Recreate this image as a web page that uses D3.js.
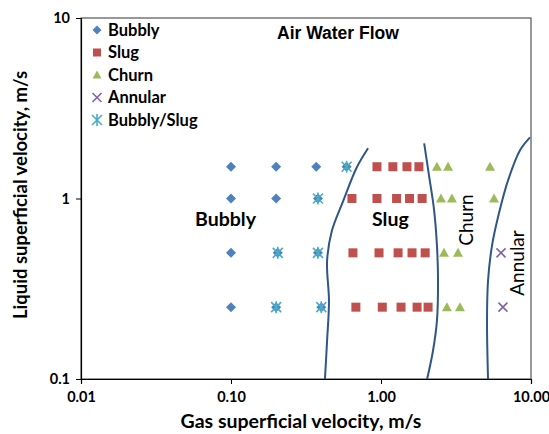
<html>
<head>
<script src="https://d3js.org/d3.v7.min.js"></script>
<style>
  body { margin: 0; background: #fff; }
  text { font-family: Lato, "Open Sans", sans-serif; font-weight: bold; fill: #000; }
  .title { font-family: "Liberation Sans", Arial, sans-serif; }
</style>
</head>
<body>
<div id="chart"></div>
<script>
// flow pattern observations (gas velocity, liquid velocity)
const bubbly = [
  [0.1, 1.5], [0.2, 1.5], [0.37, 1.5], [0.59, 1.5],
  [0.1, 1.0], [0.2, 1.0], [0.38, 1.0],
  [0.1, 0.5], [0.205, 0.5], [0.38, 0.5],
  [0.1, 0.25], [0.2, 0.25], [0.4, 0.25]
];
const slug = [
  [0.94, 1.5], [1.2, 1.5], [1.49, 1.5], [1.79, 1.5],
  [0.64, 1.0], [0.94, 1.0], [1.27, 1.0], [1.55, 1.0], [1.88, 1.0],
  [0.65, 0.5], [0.97, 0.5], [1.3, 0.5], [1.61, 0.5], [1.97, 0.5],
  [0.68, 0.25], [1.02, 0.25], [1.36, 0.25], [1.74, 0.25], [2.06, 0.25]
];
const churn = [
  [2.36, 1.5], [2.8, 1.5], [5.33, 1.5],
  [2.51, 1.0], [2.97, 1.0], [5.67, 1.0],
  [2.63, 0.5], [3.26, 0.5],
  [2.75, 0.25], [3.36, 0.25]
];
const annular = [[6.31, 0.5], [6.5, 0.25]];
const bubblySlug = [
  [0.59, 1.5], [0.38, 1.0], [0.205, 0.5], [0.38, 0.5], [0.2, 0.25], [0.4, 0.25]
];

// transition boundaries
const bubblySlugLine = [[0.82, 1.9], [0.69, 1.49], [0.56, 0.97], [0.47, 0.66], [0.437, 0.45], [0.45, 0.27], [0.437, 0.163], [0.423, 0.1]];
const slugChurnLine = [[1.94, 2.02], [2.09, 1.34], [2.26, 0.86], [2.36, 0.55], [2.4, 0.35], [2.36, 0.21], [2.22, 0.143], [2.03, 0.1]];
const churnAnnularLine = [[9.85, 2.18], [8.45, 1.85], [7.03, 1.26], [6.12, 0.83], [5.5, 0.55], [5.17, 0.35], [5.09, 0.21], [5.17, 0.1]];

const xTicks = [0.01, 0.1, 1, 10];
const yTicks = [0.1, 1, 10];
const legendNames = ["Bubbly", "Slug", "Churn", "Annular", "Bubbly/Slug"];
const colors = { diamond: "#4f81bd", square: "#c0504d", triangle: "#9bbb59", cross: "#8064a2", star: "#4bacc6", line: "#2f5686" };

const svg = d3.select("#chart").append("svg")
  .attr("width", 549)
  .attr("height", 434);
svg.append("rect").attr("width", 549).attr("height", 434).attr("fill", "#fff");

const margin = { top: 18, left: 81, right: 18, bottom: 55 };
const x = d3.scaleLog().domain([0.01, 10]).range([margin.left, 531]);
const y = d3.scaleLog().domain([0.1, 10]).range([379, margin.top]);

// frame
svg.append("rect")
  .attr("x", x(0.01)).attr("y", y(10))
  .attr("width", x(10) - x(0.01)).attr("height", y(0.1) - y(10))
  .attr("fill", "none").attr("stroke", "#333").attr("stroke-width", 1);

// axes
const xAxis = svg.append("g")
  .attr("transform", `translate(0,${y(0.1)})`)
  .call(d3.axisBottom(x).tickValues(xTicks).tickFormat(d3.format(".2f")).tickSizeOuter(0).tickSize(5).tickPadding(8));
const yAxis = svg.append("g")
  .attr("transform", `translate(${x(0.01)},0)`)
  .call(d3.axisLeft(y).tickValues(yTicks).tickFormat(d => d === 0.1 ? "0.1" : d3.format("d")(d)).tickSizeOuter(0).tickSize(5).tickPadding(6));
[xAxis, yAxis].forEach(a => {
  a.select(".domain").attr("stroke", "#000").attr("stroke-width", 1.2);
  a.selectAll(".tick line").attr("stroke", "#000");
  a.selectAll(".tick text").style("font-size", "14.5px").attr("fill", "#000");
});

// boundary lines
const line = d3.line().x(d => x(d[0])).y(d => y(d[1])).curve(d3.curveCatmullRom);
[bubblySlugLine, slugChurnLine, churnAnnularLine].forEach(b => {
  svg.append("path").attr("d", line(b))
    .attr("fill", "none").attr("stroke", colors.line).attr("stroke-width", 2);
});

// marker drawers
function diamond(g, cx, cy, s) {
  g.append("path").attr("d", `M${cx},${cy - s}L${cx + s},${cy}L${cx},${cy + s}L${cx - s},${cy}Z`).attr("fill", colors.diamond);
}
function square(g, cx, cy, s) {
  g.append("rect").attr("x", cx - s).attr("y", cy - s).attr("width", 2 * s).attr("height", 2 * s).attr("fill", colors.square);
}
function triangle(g, cx, cy, s) {
  g.append("path").attr("d", `M${cx},${cy - s}L${cx + s},${cy + s * 0.8}L${cx - s},${cy + s * 0.8}Z`).attr("fill", colors.triangle);
}
function cross(g, cx, cy, s) {
  g.append("path").attr("d", `M${cx - s},${cy - s}L${cx + s},${cy + s}M${cx + s},${cy - s}L${cx - s},${cy + s}`)
    .attr("stroke", colors.cross).attr("stroke-width", 1.6);
}
function star(g, cx, cy, s) {
  g.append("path").attr("d", `M${cx - s},${cy - s}L${cx + s},${cy + s}M${cx + s},${cy - s}L${cx - s},${cy + s}M${cx},${cy - s * 1.2}L${cx},${cy + s * 1.2}`)
    .attr("stroke", colors.star).attr("stroke-width", 1.6);
}

const pts = svg.append("g");
bubbly.forEach(d => diamond(pts, x(d[0]), y(d[1]), 5));
slug.forEach(d => square(pts, x(d[0]), y(d[1]), 4.5));
churn.forEach(d => triangle(pts, x(d[0]), y(d[1]), 5));
annular.forEach(d => cross(pts, x(d[0]), y(d[1]), 4.5));
bubblySlug.forEach(d => star(pts, x(d[0]), y(d[1]), 5));

// legend
const drawers = [diamond, square, triangle, cross, star];
const sizes = [4.5, 4, 4.5, 4.5, 5];
const leg = svg.append("g");
legendNames.forEach((n, i) => {
  const ly = 30 + i * 22.5;
  drawers[i](leg, 97, ly, sizes[i]);
  leg.append("text").attr("x", 108).attr("y", ly).attr("dy", "0.35em")
    .style("font-size", "16.5px").text(n);
});

// title and region labels
svg.append("text").attr("class", "title").attr("x", 277).attr("y", 39)
  .style("font-size", "17.5px").text("Air Water Flow");
svg.append("text").attr("x", 195).attr("y", 226).style("font-size", "19.5px").text("Bubbly");
svg.append("text").attr("x", 372).attr("y", 226).style("font-size", "19.5px").text("Slug");
svg.append("text").attr("transform", "translate(473,220) rotate(-90)").attr("text-anchor", "middle")
  .style("font-size", "19px").style("font-weight", "normal").text("Churn");
svg.append("text").attr("transform", "translate(524,263) rotate(-90)").attr("text-anchor", "middle")
  .style("font-size", "19px").style("font-weight", "normal").text("Annular");

// axis titles
svg.append("text").attr("x", 301).attr("y", 428).attr("text-anchor", "middle")
  .style("font-size", "19.5px").text("Gas superficial velocity, m/s");
svg.append("text").attr("transform", "translate(27,195) rotate(-90)").attr("text-anchor", "middle")
  .style("font-size", "18.5px").text("Liquid superficial velocity, m/s");
</script>
</body>
</html>
